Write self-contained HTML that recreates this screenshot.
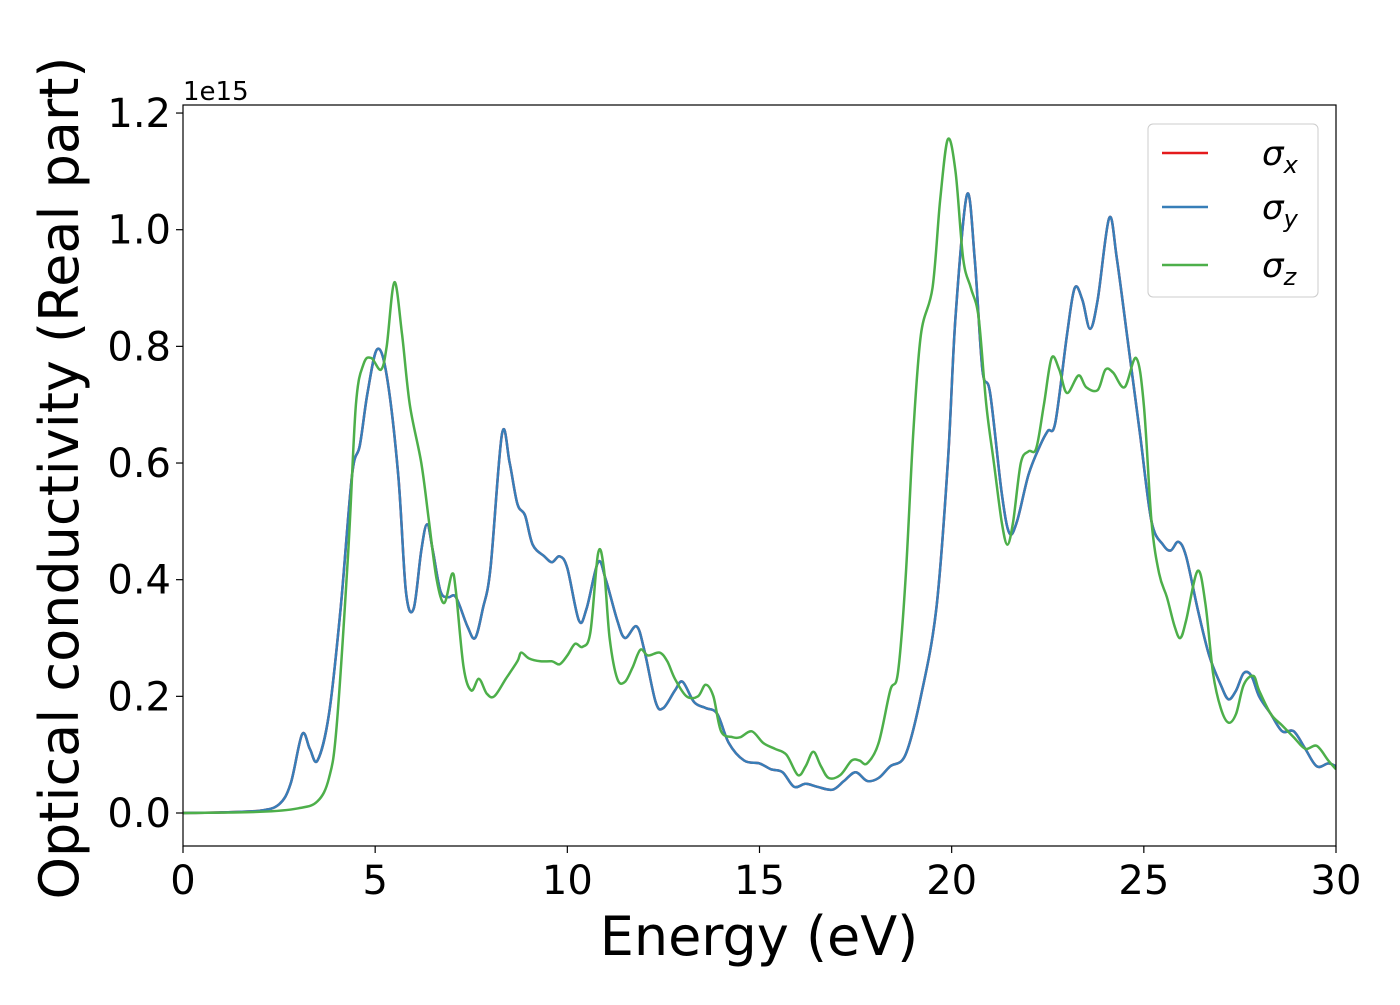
<!DOCTYPE html>
<html><head><meta charset="utf-8"><style>
body{margin:0;background:#fff}
svg text{font-family:"DejaVu Sans","Liberation Sans",sans-serif;fill:#000}
</style></head><body>
<svg id="chart" width="1400" height="1000" viewBox="0 0 1400 1000" xmlns="http://www.w3.org/2000/svg">
<rect width="1400" height="1000" fill="#fff"/>
<g id="plot"></g>
<g id="axes"></g>
</svg>
<script>
const xTicks=[0,5,10,15,20,25,30];
const yTicks=[0.0,0.2,0.4,0.6,0.8,1.0,1.2];
const yTickLabels=["0.0","0.2","0.4","0.6","0.8","1.0","1.2"];
const energyXY=[0,1,2,2.5,2.8,3.1,3.3,3.5,3.8,4.1,4.4,4.6,4.8,5.05,5.3,5.6,5.8,6.0,6.2,6.35,6.5,6.7,6.9,7.1,7.4,7.6,7.8,8.0,8.3,8.5,8.7,8.9,9.1,9.4,9.6,9.8,10.0,10.3,10.5,10.8,11.0,11.3,11.5,11.8,12.0,12.3,12.5,12.8,13.0,13.3,13.6,13.9,14.2,14.6,15.0,15.3,15.6,15.9,16.2,16.5,16.9,17.2,17.5,17.8,18.1,18.4,18.8,19.2,19.6,19.9,20.1,20.4,20.6,20.8,21.0,21.3,21.5,21.7,22.0,22.3,22.5,22.7,23.0,23.2,23.4,23.6,23.8,24.1,24.3,24.6,24.9,25.2,25.5,25.7,25.9,26.1,26.4,26.7,27.0,27.2,27.4,27.6,27.8,28.0,28.3,28.6,28.9,29.2,29.5,29.8,30];
const sigmaXY=[0,0.001,0.004,0.015,0.05,0.135,0.11,0.09,0.17,0.35,0.58,0.63,0.72,0.795,0.75,0.58,0.38,0.35,0.45,0.495,0.45,0.38,0.37,0.37,0.32,0.30,0.35,0.42,0.65,0.6,0.53,0.51,0.46,0.44,0.43,0.44,0.42,0.33,0.35,0.43,0.40,0.33,0.30,0.32,0.28,0.19,0.18,0.21,0.225,0.19,0.18,0.17,0.12,0.09,0.085,0.075,0.07,0.045,0.05,0.045,0.04,0.055,0.07,0.055,0.06,0.08,0.1,0.2,0.35,0.6,0.85,1.06,0.95,0.76,0.72,0.55,0.48,0.5,0.58,0.63,0.655,0.67,0.82,0.9,0.88,0.83,0.88,1.02,0.95,0.8,0.65,0.5,0.46,0.45,0.465,0.44,0.35,0.27,0.22,0.195,0.21,0.24,0.235,0.2,0.17,0.14,0.14,0.11,0.08,0.085,0.08];
const energyZ=[0,2,3,3.5,3.8,4.0,4.3,4.5,4.7,4.9,5.15,5.3,5.5,5.7,5.9,6.2,6.4,6.6,6.8,7.0,7.1,7.3,7.5,7.7,7.9,8.1,8.4,8.7,8.8,9.0,9.3,9.6,9.8,10.0,10.2,10.4,10.6,10.8,10.95,11.1,11.3,11.5,11.7,11.9,12.1,12.4,12.6,12.8,13.1,13.4,13.6,13.8,14.0,14.3,14.5,14.8,15.1,15.4,15.7,16.0,16.2,16.4,16.6,16.8,17.1,17.4,17.6,17.8,18.1,18.4,18.6,18.8,19.0,19.2,19.5,19.7,19.9,20.1,20.3,20.5,20.7,20.9,21.1,21.3,21.45,21.6,21.8,22.0,22.2,22.4,22.6,22.8,23.0,23.3,23.5,23.8,24.0,24.2,24.5,24.8,25.0,25.2,25.4,25.6,25.8,25.95,26.1,26.4,26.6,26.8,27.0,27.2,27.4,27.6,27.85,28.0,28.3,28.6,28.9,29.2,29.5,29.8,30];
const sigmaZ=[0,0.002,0.008,0.02,0.06,0.15,0.45,0.7,0.77,0.78,0.76,0.8,0.91,0.82,0.7,0.6,0.5,0.4,0.36,0.41,0.38,0.25,0.21,0.23,0.205,0.2,0.23,0.26,0.275,0.265,0.26,0.26,0.255,0.27,0.29,0.285,0.31,0.445,0.42,0.3,0.23,0.225,0.25,0.28,0.27,0.275,0.26,0.23,0.2,0.2,0.22,0.2,0.14,0.13,0.13,0.14,0.12,0.11,0.1,0.065,0.08,0.105,0.08,0.06,0.065,0.09,0.09,0.085,0.12,0.21,0.24,0.4,0.65,0.82,0.9,1.05,1.155,1.1,0.95,0.9,0.85,0.7,0.6,0.5,0.46,0.5,0.6,0.62,0.625,0.7,0.78,0.76,0.72,0.75,0.73,0.725,0.76,0.755,0.73,0.78,0.7,0.5,0.41,0.37,0.32,0.3,0.33,0.415,0.36,0.24,0.18,0.155,0.17,0.22,0.235,0.21,0.17,0.15,0.13,0.11,0.115,0.09,0.075];

const L=183,R=1336,T=105,B=846;
const xS=v=>L+(v-0)/(30-0)*(R-L);
const yS=v=>813-v*583.3;
const NS="http://www.w3.org/2000/svg";
const plot=document.getElementById('plot'),axes=document.getElementById('axes');
function mk(tag,attrs,parent){const e=document.createElementNS(NS,tag);for(const k in attrs)e.setAttribute(k,attrs[k]);parent.appendChild(e);return e;}
function pathD(xs,ys){
  const p=xs.map((x,i)=>[xS(x),yS(ys[i])]);
  let d=`M${p[0][0].toFixed(1)},${p[0][1].toFixed(1)}`;
  for(let i=0;i<p.length-1;i++){
    const p0=p[i-1]||p[i],p1=p[i],p2=p[i+1],p3=p[i+2]||p[i+1];
    const c1=[p1[0]+(p2[0]-p0[0])/6,p1[1]+(p2[1]-p0[1])/6];
    const c2=[p2[0]-(p3[0]-p1[0])/6,p2[1]-(p3[1]-p1[1])/6];
    d+=`C${c1[0].toFixed(1)},${c1[1].toFixed(1)} ${c2[0].toFixed(1)},${c2[1].toFixed(1)} ${p2[0].toFixed(1)},${p2[1].toFixed(1)}`;
  }
  return d;
}
mk('clipPath',{id:'clip'},plot).appendChild(document.createElementNS(NS,'rect'));
const cr=plot.querySelector('#clip rect');cr.setAttribute('x',L);cr.setAttribute('y',T);cr.setAttribute('width',R-L);cr.setAttribute('height',B-T);
const lx=mk('path',{d:pathD(energyXY,sigmaXY),fill:'none',stroke:'#e41a1c','stroke-width':2.5,'clip-path':'url(#clip)'},plot);


const ly=mk('path',{d:pathD(energyXY,sigmaXY),fill:'none',stroke:'#377eb8','stroke-width':2.5,'clip-path':'url(#clip)'},plot);


const lz=mk('path',{d:pathD(energyZ,sigmaZ),fill:'none',stroke:'#4daf4a','stroke-width':2.5,'clip-path':'url(#clip)'},plot);



const fr=mk('rect',{x:L,y:T,width:R-L,height:B-T,fill:'none',stroke:'#000','stroke-width':1.2},axes);


xTicks.forEach(v=>{
  mk('line',{x1:xS(v),x2:xS(v),y1:B,y2:B+7,stroke:'#000','stroke-width':1.2},axes);
  const t=mk('text',{x:xS(v),y:B+48,'font-size':40,'text-anchor':'middle'},axes);t.textContent=v;
  
  
});
yTicks.forEach((v,i)=>{
  mk('line',{x1:L-7,x2:L,y1:yS(v),y2:yS(v),stroke:'#000','stroke-width':1.2},axes);
  const t=mk('text',{x:L-12,y:yS(v)+14,'font-size':40,'text-anchor':'end'},axes);t.textContent=yTickLabels[i];
  
  
});
</script>
<svg style="position:absolute;left:0;top:0" width="1400" height="1000">
<text x="183" y="100" font-size="26" font-family="DejaVu Sans, Liberation Sans, sans-serif">1e15</text>
<text x="759" y="955" font-size="54" text-anchor="middle" font-family="DejaVu Sans, Liberation Sans, sans-serif">Energy (eV)</text>
<text transform="translate(78,478) rotate(-90)" font-size="54" text-anchor="middle" font-family="DejaVu Sans, Liberation Sans, sans-serif">Optical conductivity (Real part)</text>
<g>
<rect x="1148" y="124" width="170" height="173" rx="5" fill="#fff" fill-opacity="0.8" stroke="#ccc"/>
<line x1="1162" x2="1208" y1="153" y2="153" stroke="#e41a1c" stroke-width="2.5"/>
<line x1="1162" x2="1208" y1="207" y2="207" stroke="#377eb8" stroke-width="2.5"/>
<line x1="1162" x2="1208" y1="265" y2="265" stroke="#4daf4a" stroke-width="2.5"/>
<text x="1262" y="165" font-size="34" font-style="italic" font-family="DejaVu Sans, sans-serif">σ<tspan font-size="24" dy="8">x</tspan></text>
<text x="1262" y="219" font-size="34" font-style="italic" font-family="DejaVu Sans, sans-serif">σ<tspan font-size="24" dy="8">y</tspan></text>
<text x="1262" y="277" font-size="34" font-style="italic" font-family="DejaVu Sans, sans-serif">σ<tspan font-size="24" dy="8">z</tspan></text>
</g>
</svg>
</body></html>
